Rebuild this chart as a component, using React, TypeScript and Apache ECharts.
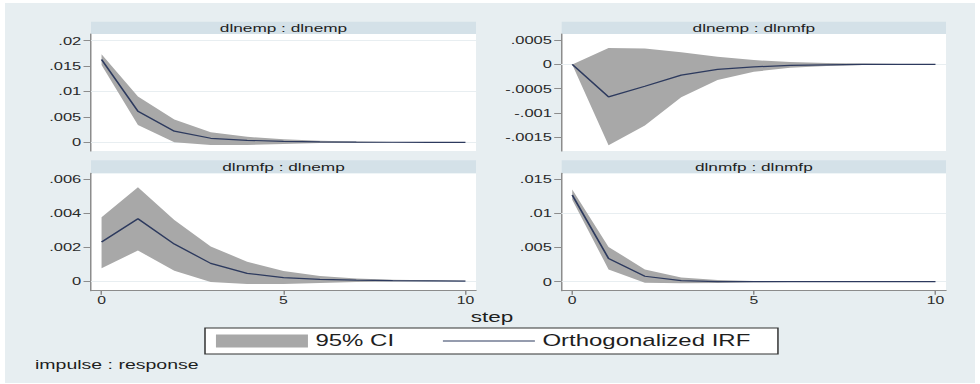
import React, { useEffect, useRef } from "react";
import * as echarts from "echarts";

// ---- data ----
const steps = [0, 1, 2, 3, 4, 5, 6, 7, 8, 9, 10];

const panelTitles = ["dlnemp : dlnemp", "dlnemp : dlnmfp", "dlnmfp : dlnemp", "dlnmfp : dlnmfp"];

// dlnemp : dlnemp
const irf11 = [0.0163, 0.0061, 0.0022, 0.0008, 0.0004, 0.0002, 0.0001, 0.00005, 0.00002, 0.00001, 0];
const lo11 = [0.0152, 0.0034, 0.0, -0.0005, -0.0005, -0.0003, -0.00015, -0.0001, -0.00005, -0.00002, -0.00001];
const hi11 = [0.0173, 0.009, 0.0045, 0.002, 0.0011, 0.0006, 0.0003, 0.00015, 0.00008, 0.00004, 0.00002];

// dlnemp : dlnmfp
const irf12 = [0, -0.00067, -0.00045, -0.00022, -0.0001, -0.00005, -0.00002, -0.00001, 0, 0, 0];
const lo12 = [0, -0.00167, -0.00126, -0.00068, -0.00032, -0.00015, -0.00007, -0.00003, -0.00001, -0.000005, -0.000003];
const hi12 = [0, 0.00034, 0.00033, 0.00025, 0.00016, 0.00009, 0.00005, 0.00003, 0.00002, 0.00001, 0.000005];

// dlnmfp : dlnemp
const irf21 = [0.0023, 0.00367, 0.00218, 0.00104, 0.00045, 0.0002, 0.0001, 0.00005, 0.00002, 0.00001, 0];
const lo21 = [0.00075, 0.0018, 0.0006, -0.00006, -0.00018, -0.00018, -0.00012, -0.00006, -0.00003, -0.00001, -0.000005];
const hi21 = [0.00376, 0.00553, 0.0036, 0.00204, 0.00114, 0.00059, 0.0003, 0.00015, 0.00008, 0.00004, 0.00002];

// dlnmfp : dlnmfp
const irf22 = [0.0127, 0.0034, 0.0008, 0.00015, 0.00002, 0, 0, 0, 0, 0, 0];
const lo22 = [0.012, 0.0018, -0.00015, -0.00024, -0.0002, -0.0001, -0.00005, -0.00002, -0.00001, -0.00001, -0.00001];
const hi22 = [0.0135, 0.0051, 0.0018, 0.00063, 0.00024, 0.0001, 0.00005, 0.00002, 0.00001, 0.00001, 0.00001];

// y tick labels per panel
const yTicks11 = [0, 0.005, 0.01, 0.015, 0.02];
const yTicks12 = [-0.0015, -0.001, -0.0005, 0, 0.0005];
const yTicks21 = [0, 0.002, 0.004, 0.006];
const yTicks22 = [0, 0.005, 0.01, 0.015];
const xTicks = [0, 5, 10];

const legendNames = ["95% CI", "Orthogonalized IRF"];
const xTitle = "step";
const noteText = "impulse : response";

// ---- layout ----
const S = 1.5; // horizontal stretch of the reference
const W = 980 / S;
const FONT = '"Liberation Sans", Arial, Helvetica, sans-serif';
const BG = "#e7eef1";
const STRIP = "#d4e1e8";
const CI_COLOR = "#a8a8a8";
const LINE_COLOR = "#2d3a5e";
const AXIS_COLOR = "#8c8c8c";
const GRID_LINE = "#e8eef1";

const panels = [
  { irf: irf11, lo: lo11, hi: hi11, ticks: yTicks11, min: -0.0017, max: 0.0213, left: 91, top: 34, bottom: 151, right: 476, showX: false },
  { irf: irf12, lo: lo12, hi: hi12, ticks: yTicks12, min: -0.00179, max: 0.00063, left: 561.7, top: 34, bottom: 151, right: 946, showX: false },
  { irf: irf21, lo: lo21, hi: hi21, ticks: yTicks21, min: -0.00057, max: 0.00635, left: 91, top: 173.3, bottom: 290.7, right: 476, showX: true },
  { irf: irf22, lo: lo22, hi: hi22, ticks: yTicks22, min: -0.00132, max: 0.01588, left: 561.7, top: 173.3, bottom: 290.7, right: 946, showX: true },
];
const stripTops = [21.7, 21.7, 160.3, 160.3];

const fmt = (v: number) => {
  if (v === 0) return "0";
  return String(v).replace(/^(-?)0\./, "$1.");
};

export default function App() {
  const ref = useRef<HTMLDivElement>(null);

  useEffect(() => {
    if (!ref.current) return;
    const chart = echarts.init(ref.current, undefined, { renderer: "svg" });

    const grid: any[] = [];
    const xAxis: any[] = [];
    const yAxis: any[] = [];
    const series: any[] = [];
    const graphic: any[] = [];

    graphic.push({
      type: "rect",
      z: -100,
      silent: true,
      shape: { x: 5 / S, y: 3, width: 970 / S, height: 380 },
      style: { fill: BG },
    });

    panels.forEach((p, i) => {
      const gl = p.left / S;
      const gw = (p.right - p.left) / S;
      grid.push({
        left: gl,
        top: p.top,
        width: gw,
        height: p.bottom - p.top,
        show: true,
        backgroundColor: "#ffffff",
        borderWidth: 0,
        containLabel: false,
        outerBoundsMode: "none",
      });
      xAxis.push({
        type: "value",
        gridIndex: i,
        min: -0.29,
        max: 10.29,
        splitLine: { show: false },
        axisLine: { show: p.showX, onZero: false, lineStyle: { color: AXIS_COLOR, width: 1 } },
        axisTick: { show: p.showX, length: 4, customValues: xTicks, lineStyle: { color: AXIS_COLOR } },
        axisLabel: {
          show: p.showX,
          customValues: xTicks,
          margin: 4,
          fontSize: 10.5,
          color: "#2a2a2a",
          fontFamily: FONT,
        },
      });
      yAxis.push({
        type: "value",
        gridIndex: i,
        min: p.min,
        max: p.max,
        position: "left",
        splitLine: { show: false },
        axisLine: { show: true, onZero: false, lineStyle: { color: AXIS_COLOR, width: 1 } },
        axisTick: { show: true, length: 5, customValues: p.ticks, lineStyle: { color: AXIS_COLOR } },
        axisLabel: {
          customValues: p.ticks,
          formatter: fmt,
          margin: 6.5,
          fontSize: 11,
          color: "#2a2a2a",
          fontFamily: FONT,
        },
      });

      const lo = p.lo;
      const hi = p.hi;
      series.push({
        name: legendNames[0],
        type: "custom",
        xAxisIndex: i,
        yAxisIndex: i,
        data: steps.map((s, k) => [s, lo[k], hi[k]]),
        encode: { x: 0, y: [1, 2] },
        silent: true,
        z: 2,
        itemStyle: { color: CI_COLOR },
        renderItem: (params: any, api: any) => {
          if (params.dataIndex !== 0) return null;
          const upper = steps.map((s, k) => api.coord([s, hi[k]]));
          const lower = steps.map((s, k) => api.coord([s, lo[k]])).reverse();
          return {
            type: "polygon",
            shape: { points: upper.concat(lower) },
            style: { fill: CI_COLOR },
          };
        },
      });
      series.push({
        name: legendNames[1],
        type: "line",
        xAxisIndex: i,
        yAxisIndex: i,
        data: steps.map((s, k) => [s, p.irf[k]]),
        symbol: "none",
        showSymbol: false,
        silent: true,
        color: LINE_COLOR,
        lineStyle: { width: 1.2, color: LINE_COLOR },
        z: 3,
        markLine: {
          silent: true,
          z: 1,
          animation: false,
          symbol: ["none", "none"],
          label: { show: false },
          lineStyle: { color: GRID_LINE, width: 1, type: "solid" },
          data: p.ticks.map((v) => ({ yAxis: v })),
        },
      });

      graphic.push({
        type: "rect",
        silent: true,
        shape: { x: gl, y: stripTops[i], width: gw, height: p.top - stripTops[i] },
        style: { fill: STRIP },
      });
      graphic.push({
        type: "text",
        silent: true,
        x: gl + gw / 2,
        y: (stripTops[i] + p.top) / 2 + 0.5,
        style: {
          text: panelTitles[i],
          fill: "#1e1e1e",
          font: `11.5px ${FONT}`,
          align: "center",
          verticalAlign: "middle",
        },
      });
    });

    graphic.push({
      type: "text",
      silent: true,
      x: 492 / S,
      y: 317,
      style: {
        text: xTitle,
        fill: "#1e1e1e",
        font: `15px ${FONT}`,
        align: "center",
        verticalAlign: "middle",
      },
    });
    graphic.push({
      type: "text",
      silent: true,
      x: 35 / S,
      y: 365,
      style: {
        text: noteText,
        fill: "#1e1e1e",
        font: `13px ${FONT}`,
        align: "left",
        verticalAlign: "middle",
      },
    });

    chart.setOption({
      animation: false,
      backgroundColor: "transparent",
      textStyle: { fontFamily: FONT },
      grid,
      xAxis,
      yAxis,
      series,
      graphic,
      legend: {
        show: true,
        left: 205 / S,
        top: 328,
        orient: "horizontal",
        selectedMode: false,
        data: [
          { name: legendNames[0], icon: "rect", itemStyle: { color: CI_COLOR, borderWidth: 0 } },
          {
            name: legendNames[1],
            icon: "path://M0,0H60V1H0Z",
            itemStyle: { color: LINE_COLOR, borderWidth: 0 },
          },
        ],
        itemWidth: 92 / S,
        itemHeight: 13,
        itemGap: 32.5,
        padding: [5, 18.3, 5, 7.3],
        backgroundColor: "#ffffff",
        borderColor: "#333333",
        borderWidth: 1,
        borderRadius: 0,
        textStyle: { fontSize: 16, color: "#1e1e1e", fontFamily: FONT, lineHeight: 15 },
      },
    });

    return () => chart.dispose();
  }, []);

  return (
    <div
      style={{
        position: "fixed",
        left: 0,
        top: 0,
        width: 980,
        height: 384,
        background: "#ffffff",
        overflow: "hidden",
      }}
    >
      <div
        ref={ref}
        style={{
          width: W,
          height: 384,
          transform: `scaleX(${S})`,
          transformOrigin: "0 0",
        }}
      />
    </div>
  );
}
